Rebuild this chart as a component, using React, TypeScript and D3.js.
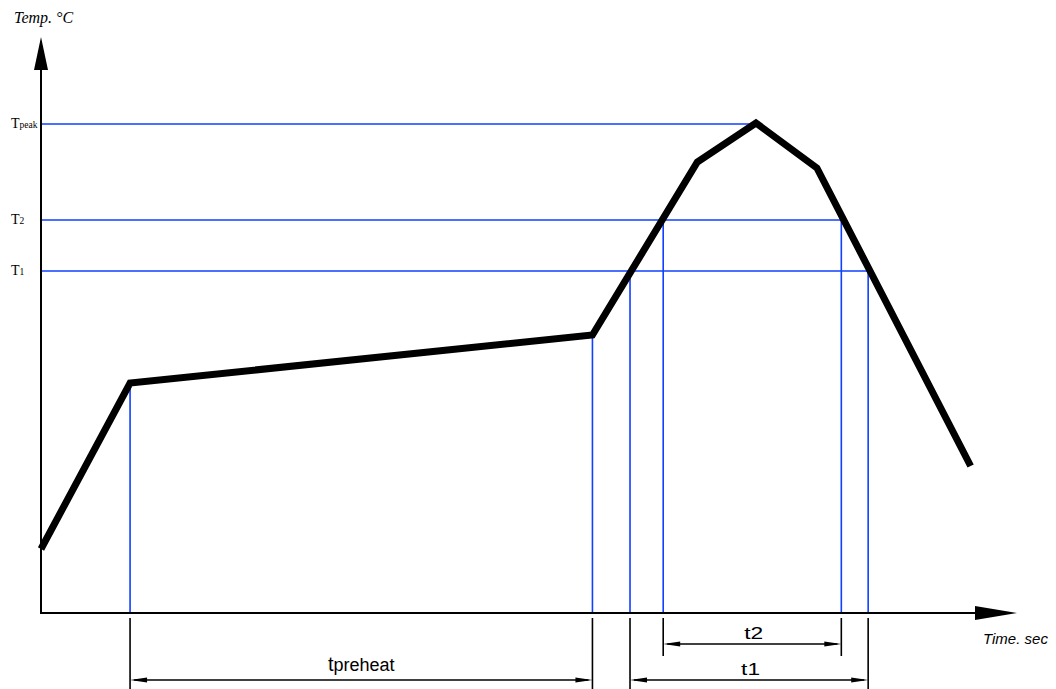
import React from "react";
import * as d3 from "d3";

// Reflow profile (time in s, temperature in °C)
const profileTime = [0, 36.5, 226, 269, 293, 318, 381];
const profileTemp = [32, 115, 139, 225.5, 245, 222.5, 73.5];

// Temperature levels
const levelNames = ["T1", "T2", "Tpeak"];
const levelMain = ["T", "T", "T"];
const levelSub = ["1", "2", "peak"];
const levelTemp = [171, 196.5, 244.5];
const levelEndTime = [339, 328, 293];

// Vertical marker lines
const markerTime = [36.5, 226, 241.4, 255, 328, 339];
const markerTemp = [115, 139, 171, 196.5, 196.5, 171];

// Dimension intervals
const dimNames = ["tpreheat", "t2", "t1"];
const dimMain = ["t", "t", "t"];
const dimSub = ["preheat", "2", "1"];
const dimFrom = [36.5, 255, 241.4];
const dimTo = [226, 328, 339];

const axisMaxTime = 400;
const axisMaxTemp = 288;

const W = 1056;
const H = 689;
const X0 = 41;
const XEND = 1017;
const Y0 = 613;
const YEND = 37;
const BLUE = "#0f3fff";

// layout of dimension rows
const dimRowY: Record<string, number> = { tpreheat: 680, t2: 644, t1: 680 };
const dimExtBottom: Record<string, number> = { tpreheat: 689, t2: 656, t1: 689 };

export default function App() {
  const x = d3.scaleLinear().domain([0, axisMaxTime]).range([X0, XEND]);
  const y = d3.scaleLinear().domain([0, axisMaxTemp]).range([Y0, YEND]);

  const pts: [number, number][] = profileTime.map((t, i) => [t, profileTemp[i]]);
  const line = d3
    .line<[number, number]>()
    .x((d) => x(d[0]))
    .y((d) => y(d[1]));
  const path = line(pts) || "";

  const arrowLen = 17;
  const arrowHalf = 2.6;

  return (
    <svg
      width={W}
      height={H}
      style={{ position: "absolute", left: 0, top: 0, background: "#fff" }}
    >
      <rect x={0} y={0} width={W} height={H} fill="#fff" />

      {/* level lines */}
      {levelNames.map((n, i) => (
        <line
          key={n}
          x1={x(0)}
          x2={x(levelEndTime[i])}
          y1={y(levelTemp[i])}
          y2={y(levelTemp[i])}
          stroke={BLUE}
          strokeWidth={1.6}
        />
      ))}
      {/* marker verticals */}
      {markerTime.map((t, i) => (
        <line
          key={i}
          x1={x(t)}
          x2={x(t)}
          y1={y(markerTemp[i])}
          y2={Y0}
          stroke={BLUE}
          strokeWidth={1.6}
        />
      ))}

      {/* axes */}
      <line x1={X0} x2={X0} y1={Y0 + 1} y2={YEND + 30} stroke="#000" strokeWidth={2} />
      <path d={`M${X0},${YEND} L${X0 - 7},${YEND + 33} L${X0 + 7},${YEND + 33} Z`} fill="#000" />
      <line x1={X0 - 1} x2={XEND - 40} y1={Y0} y2={Y0} stroke="#000" strokeWidth={2} />
      <path d={`M${XEND},${Y0} L${XEND - 42},${Y0 - 7} L${XEND - 42},${Y0 + 7} Z`} fill="#000" />

      {/* profile curve */}
      <path
        d={path}
        fill="none"
        stroke="#000"
        strokeWidth={7}
        strokeLinejoin="miter"
        strokeLinecap="butt"
      />

      {/* axis titles */}
      <text
        x={14}
        y={23}
        fontFamily="'Liberation Serif', 'Times New Roman', serif"
        fontStyle="italic"
        fontSize={16}
        fill="#000"
      >
        Temp. °C
      </text>
      <text
        x={983}
        y={644}
        fontFamily="'Liberation Sans', Arial, sans-serif"
        fontStyle="italic"
        fontSize={15}
        fill="#000"
      >
        Time. sec
      </text>

      {/* level labels */}
      {levelNames.map((n, i) => (
        <text
          key={n}
          x={11}
          y={y(levelTemp[i]) + 4}
          fontFamily="'Liberation Serif', 'Times New Roman', serif"
          fill="#000"
        >
          <tspan fontSize={14}>{levelMain[i]}</tspan>
          <tspan fontSize={9.5}>{levelSub[i]}</tspan>
        </text>
      ))}

      {/* dimensions */}
      {dimNames.map((n, i) => {
        const xa = x(dimFrom[i]);
        const xb = x(dimTo[i]);
        const ry = dimRowY[n];
        const eb = dimExtBottom[n];
        const mid = (xa + xb) / 2;
        return (
          <g key={n}>
            <line x1={xa} x2={xa} y1={618} y2={eb} stroke="#000" strokeWidth={1.6} />
            <line x1={xb} x2={xb} y1={618} y2={eb} stroke="#000" strokeWidth={1.6} />
            <line x1={xa + 4} x2={xb - 4} y1={ry} y2={ry} stroke="#000" strokeWidth={1.4} />
            <path
              d={`M${xa},${ry} L${xa + arrowLen},${ry - arrowHalf} L${xa + arrowLen},${ry + arrowHalf} Z`}
              fill="#000"
            />
            <path
              d={`M${xb},${ry} L${xb - arrowLen},${ry - arrowHalf} L${xb - arrowLen},${ry + arrowHalf} Z`}
              fill="#000"
            />
            {n === "tpreheat" ? (
              <text
                x={mid}
                y={ry - 9}
                textAnchor="middle"
                fontFamily="'Liberation Sans', Arial, sans-serif"
                fill="#000"
              >
                <tspan fontSize={20}>{dimMain[i]}</tspan>
                <tspan fontSize={18}>{dimSub[i]}</tspan>
              </text>
            ) : (
              <text
                x={mid - 8}
                y={ry - 5}
                textLength={19}
                lengthAdjust="spacingAndGlyphs"
                fontFamily="'Liberation Sans', Arial, sans-serif"
                fontSize={17}
                fill="#000"
              >
                {dimMain[i] + dimSub[i]}
              </text>
            )}
          </g>
        );
      })}
    </svg>
  );
}
